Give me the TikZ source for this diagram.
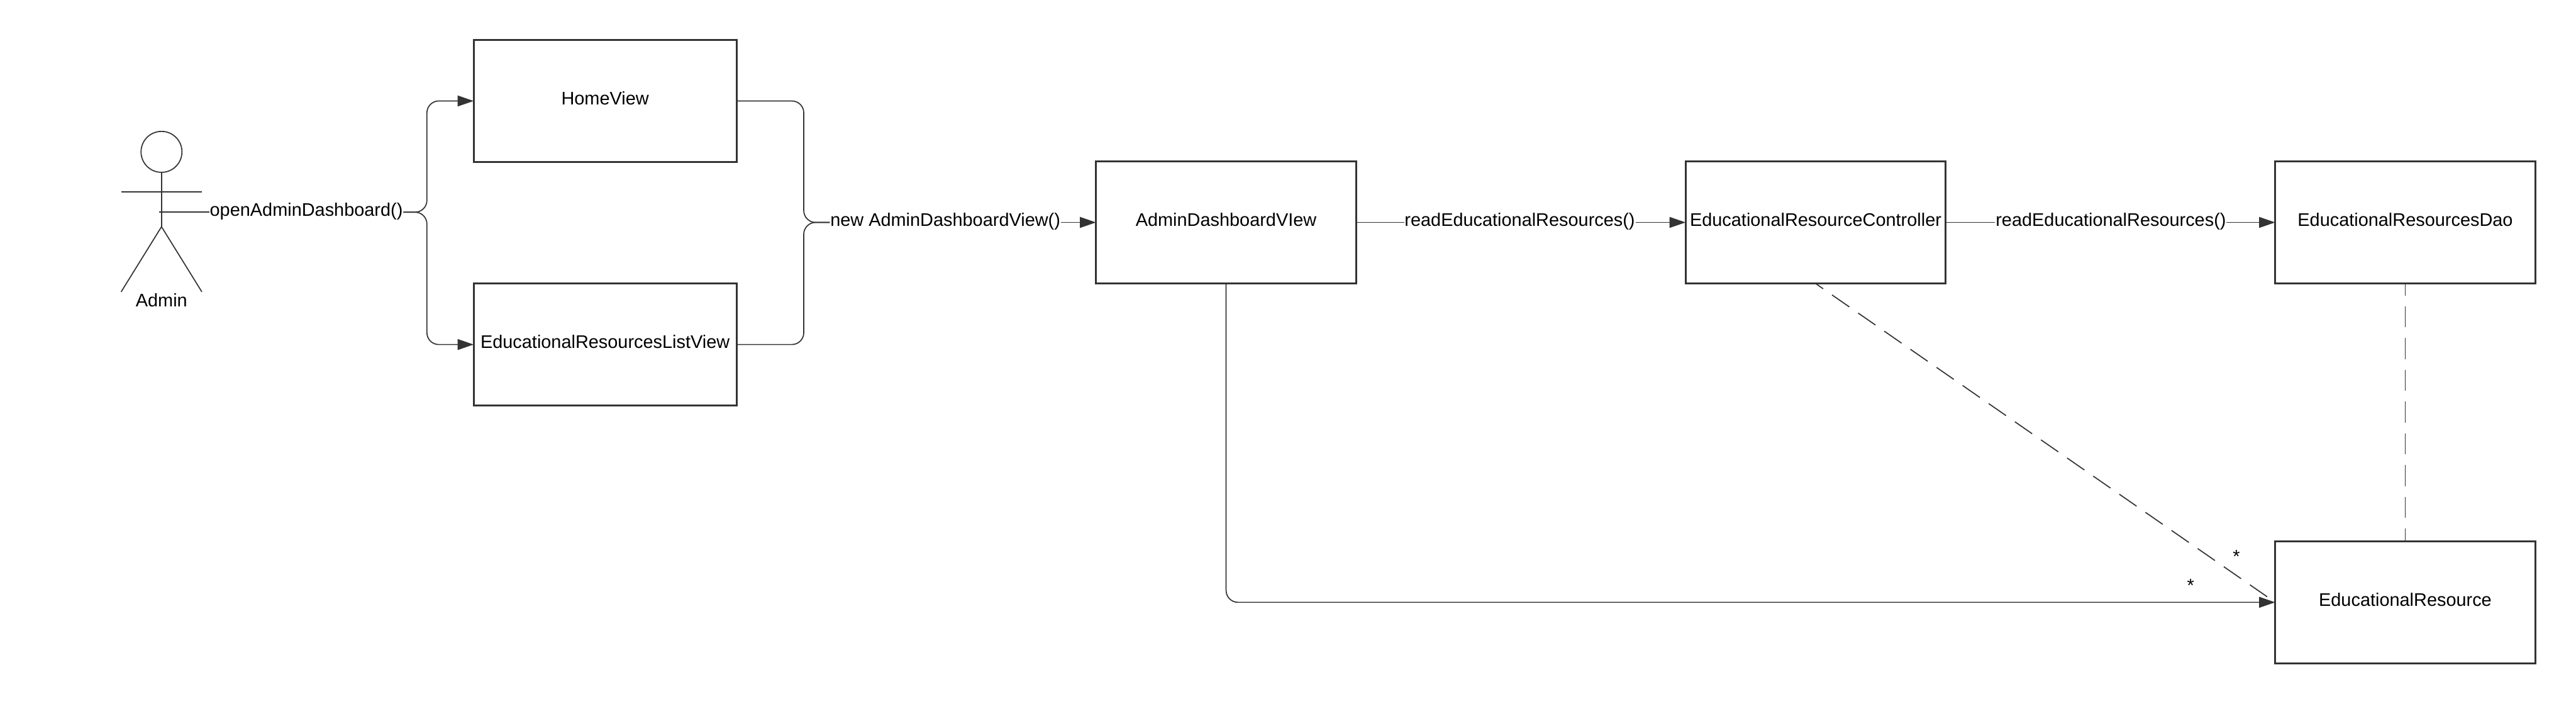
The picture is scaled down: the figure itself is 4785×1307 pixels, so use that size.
\documentclass[tikz,border=0pt]{standalone}
\usepackage{fontspec}
\usepackage{tikz}
\usetikzlibrary{arrows.meta, positioning, calc}
\setmainfont{Liberation Sans}
\definecolor{umlline}{HTML}{333333}

\begin{document}
\begin{tikzpicture}[
    x=.01cm, y=-.01cm,
    every node/.style={font=\fontsize{9.6pt}{11pt}\selectfont, text=black, inner sep=0pt, outer sep=0pt},
    classbox/.style={rectangle, draw=umlline, line width=1pt, minimum height=2.27cm, text height=.28cm, text depth=.14cm, align=center},
    wide/.style={classbox, minimum width=4.88cm},
    narrow/.style={classbox, minimum width=4.83cm},
    call/.style={text height=.28cm, text depth=.14cm, inner xsep=.01cm},
    actorline/.style={draw=umlline, line width=.57pt},
    arrow/.style={-{Triangle[length=8.5pt, width=5.7pt]}, draw=umlline, line width=.57pt, rounded corners=.22cm},
    link/.style={draw=umlline, line width=.57pt, rounded corners=.22cm},
    assoc/.style={draw=umlline, line width=.57pt, dash pattern=on .39cm off .2cm}
]
\useasboundingbox (0,0) rectangle (4785,1307);

% Nodes
\node[wide] (home) at (1124,187.5) {HomeView};
\node[wide, below=2.25cm of home] (list) {EducationalResourcesListView};
\node[narrow] (admin) at (2277.5,413) {AdminDashboardVIew};
\node[narrow, right=6.115cm of admin] (controller) {EducationalResourceController};
\node[narrow, right=6.115cm of controller] (dao) {EducationalResourcesDao};
\node[narrow, below=4.78cm of dao] (resource) {EducationalResource};

% Actor
\node[circle, actorline, minimum size=.76cm] (head) at (300,282) {};
\coordinate (hip) at (300,421);
\coordinate (hand) at (296,394);
\coordinate (armleft) at (225,356.5);
\coordinate (armright) at (375,356.5);
\coordinate (footleft) at (225,542);
\coordinate (footright) at (375,542);
\node[call] (actorname) at (300,562) {Admin};
\draw[actorline] (head.south) -- (hip);
\draw[actorline] (armleft) -- (armright);
\draw[actorline] (footleft) -- (hip) -- (footright);

% Labels
\node[call] (opencall) at (569,394) {openAdminDashboard()};
\node[call] (newcall) at (1756,413) {new AdminDashboardView()};
\node[call] (readone) at (2823,413) {readEducationalResources()};
\node[call] (readtwo) at (3921,413) {readEducationalResources()};
\node (stardiag) at (4154,1033) {*};
\node (starline) at (4069,1087) {*};

% Arrows
\coordinate (split) at (793,394);
\coordinate (merge) at (1493,413);
\draw[link] (hand) -- (opencall.west);
\draw[arrow] (opencall.east) -- (split) |- (home.west);
\draw[arrow] (opencall.east) -- (split) |- (list.west);
\draw[link] (home.east) -| (merge) -- (newcall.west);
\draw[link] (list.east) -| (merge) -- (newcall.west);
\draw[arrow] (newcall.east) -- (admin.west);
\draw[link] (admin.east) -- (readone.west);
\draw[arrow] (readone.east) -- (controller.west);
\draw[link] (controller.east) -- (readtwo.west);
\draw[arrow] (readtwo.east) -- (dao.west);
\draw[arrow] (admin.south) |- (resource.west);
\draw[assoc, dash phase=.22cm] (controller.south) -- (resource.west);
\draw[assoc, dash phase=.17cm] (dao.south) -- (resource.north);

\end{tikzpicture}
\end{document}
